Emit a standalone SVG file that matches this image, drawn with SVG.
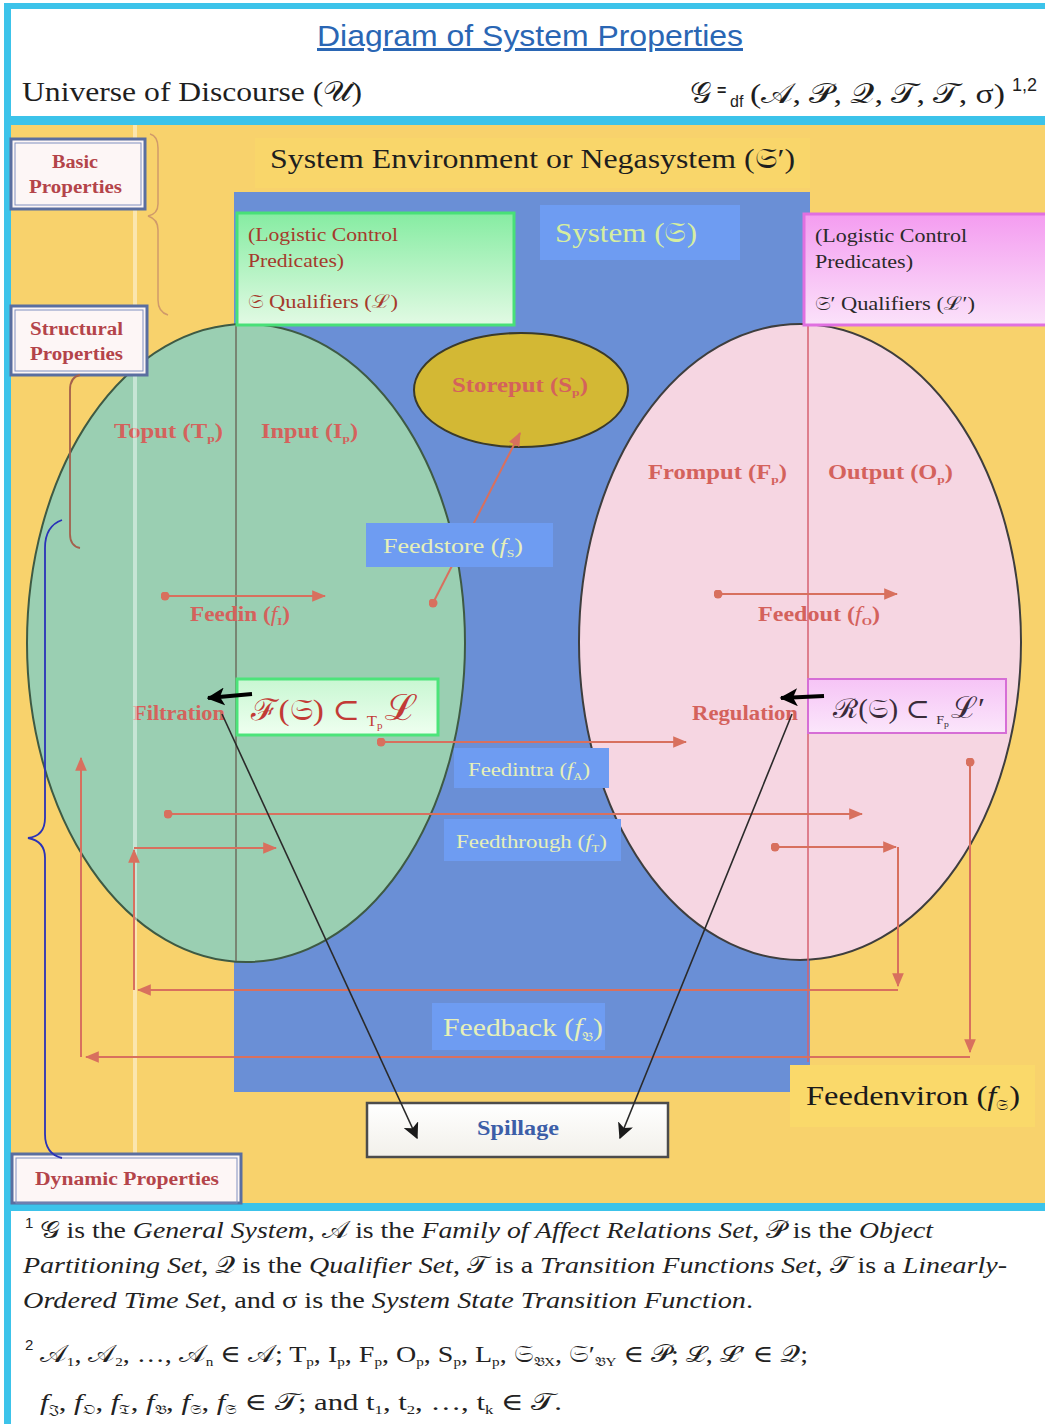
<svg xmlns="http://www.w3.org/2000/svg" width="1045" height="1424" viewBox="0 0 1045 1424">
<style>
.serif{font-family:"Liberation Serif","DejaVu Serif","Noto Sans",serif}
.sans{font-family:"Liberation Sans","DejaVu Sans",sans-serif}
.lbl{font-family:"Liberation Serif","DejaVu Serif",serif;font-weight:bold;font-size:20px;fill:#d4625c}
.prop{font-family:"Liberation Serif","DejaVu Serif",serif;font-weight:bold;font-size:18px;fill:#b4444a}
.blue{font-family:"Liberation Serif","DejaVu Serif",serif;fill:#e6f0b8}
.red{fill:none;stroke:#d8705e;stroke-width:2}
.blk{fill:none;stroke:#2a2a2a;stroke-width:1.6}
.foot{font-family:"Liberation Serif","DejaVu Serif",serif;font-size:24px;fill:#222}
.bbox{fill:#6e9cf2}
</style>
<defs>
<marker id="ar" viewBox="0 0 12 10" refX="11" refY="5" markerWidth="14" markerHeight="12" orient="auto" markerUnits="userSpaceOnUse"><path d="M0,0 L12,5 L0,10 z" fill="#d8705e"/></marker>
<marker id="dt" viewBox="0 0 10 10" refX="5" refY="5" markerWidth="9" markerHeight="9" markerUnits="userSpaceOnUse"><circle cx="5" cy="5" r="5" fill="#d8705e"/></marker>
<marker id="ab" viewBox="0 0 12 12" refX="11" refY="6" markerWidth="16" markerHeight="16" orient="auto" markerUnits="userSpaceOnUse"><path d="M0,0 L12,6 L0,12 L3,6 z" fill="#1a1a1a"/></marker>
<marker id="abk" viewBox="0 0 12 12" refX="11" refY="6" markerWidth="18" markerHeight="18" orient="auto" markerUnits="userSpaceOnUse"><path d="M0,0 L12,6 L0,12 L3,6 z" fill="#000"/></marker>
<linearGradient id="gg" x1="0" y1="0" x2="0" y2="1"><stop offset="0" stop-color="#86eca2"/><stop offset="1" stop-color="#e2fae4"/></linearGradient>
<linearGradient id="pg" x1="0" y1="0" x2="0" y2="1"><stop offset="0" stop-color="#f49cf0"/><stop offset="1" stop-color="#fbe2fa"/></linearGradient>
<linearGradient id="gf" x1="0" y1="0" x2="0" y2="1"><stop offset="0" stop-color="#c8f7d2"/><stop offset="1" stop-color="#effff0"/></linearGradient>
<linearGradient id="pf" x1="0" y1="0" x2="0" y2="1"><stop offset="0" stop-color="#f6c4f6"/><stop offset="1" stop-color="#fbe6fb"/></linearGradient>
<linearGradient id="sg" x1="0" y1="0" x2="0" y2="1"><stop offset="0" stop-color="#ffffff"/><stop offset="1" stop-color="#f2f0ea"/></linearGradient>
</defs>

<g id="frame">
<rect x="0" y="0" width="1045" height="1424" fill="#ffffff"/>
<rect x="8" y="125" width="1037" height="1078" fill="#f8d26c"/>
<rect x="255" y="138" width="555" height="50" fill="#f9d66a"/>
<rect x="4" y="3" width="1041" height="6" fill="#3cc3ea"/>
<rect x="4" y="116" width="1041" height="9" fill="#3cc3ea"/>
<rect x="4" y="1203" width="1041" height="8" fill="#3cc3ea"/>
<rect x="4" y="3" width="7" height="1421" fill="#3cc3ea"/>
</g>

<g id="header">
<text x="317" y="46" class="sans" font-size="30" fill="#2a66b4" textLength="426" lengthAdjust="spacingAndGlyphs" text-decoration="underline">Diagram of System Properties</text>
<text x="22" y="101" class="serif" font-size="28" fill="#1e1e1e" textLength="340" lengthAdjust="spacingAndGlyphs">Universe of Discourse (𝒰)</text>
<text x="690" y="103" class="serif" font-size="30" fill="#1e1e1e">𝒢</text>
<text x="717" y="96" class="sans" font-size="16" font-weight="bold" fill="#1e1e1e">=</text>
<text x="730" y="107" class="sans" font-size="16" fill="#1e1e1e">df</text>
<text x="750" y="103" class="serif" font-size="28" fill="#1e1e1e" textLength="255" lengthAdjust="spacingAndGlyphs">(𝒜, 𝒫, 𝒬, 𝒯, 𝒯, σ)</text>
<text x="1012" y="91" class="sans" font-size="18" fill="#1e1e1e">1,2</text>
</g>

<g id="environment-label">
<text x="270" y="168" class="serif" font-size="28" fill="#1e1e1e" textLength="525" lengthAdjust="spacingAndGlyphs">System Environment or Negasystem (𝔖′)</text>
</g>

<g id="system">
<rect x="234" y="192" width="576" height="900" fill="#6a8fd6"/>
<rect x="540" y="205" width="200" height="55" class="bbox"/>
<text x="555" y="242" class="serif" font-size="28" fill="#d6eea0" textLength="142" lengthAdjust="spacingAndGlyphs">System (𝔖)</text>
</g>

<g id="input-region">
<ellipse cx="246" cy="643" rx="219" ry="319" fill="#9acfb2" stroke="#3e5a44" stroke-width="2"/>
<line x1="236" y1="325" x2="236" y2="961" stroke="#6c6e5e" stroke-width="1.5"/>
<text x="114" y="438" class="lbl" textLength="109" lengthAdjust="spacingAndGlyphs">Toput (T<tspan font-size="11" dy="4">p</tspan><tspan dy="-4">)</tspan></text>
<text x="261" y="438" class="lbl" textLength="97" lengthAdjust="spacingAndGlyphs">Input (I<tspan font-size="11" dy="4">p</tspan><tspan dy="-4">)</tspan></text>
<text x="190" y="621" class="lbl" textLength="100" lengthAdjust="spacingAndGlyphs">Feedin (<tspan font-weight="normal" font-style="italic">f</tspan><tspan font-size="11" dy="4">I</tspan><tspan dy="-4">)</tspan></text>
<text x="133" y="720" class="lbl" fill="#d24e4e" textLength="92" lengthAdjust="spacingAndGlyphs">Filtration</text>
</g>

<g id="output-region">
<ellipse cx="800" cy="642" rx="221" ry="318" fill="#f6d6e2" stroke="#3e3e3e" stroke-width="2"/>
<line x1="808" y1="326" x2="808" y2="1062" stroke="#d66070" stroke-width="1.5"/>
<text x="648" y="479" class="lbl" textLength="139" lengthAdjust="spacingAndGlyphs">Fromput (F<tspan font-size="11" dy="4">p</tspan><tspan dy="-4">)</tspan></text>
<text x="828" y="479" class="lbl" textLength="125" lengthAdjust="spacingAndGlyphs">Output (O<tspan font-size="11" dy="4">p</tspan><tspan dy="-4">)</tspan></text>
<text x="758" y="621" class="lbl" textLength="122" lengthAdjust="spacingAndGlyphs">Feedout (<tspan font-weight="normal" font-style="italic">f</tspan><tspan font-size="11" dy="4">O</tspan><tspan dy="-4">)</tspan></text>
<text x="692" y="720" class="lbl" fill="#d24e4e" textLength="106" lengthAdjust="spacingAndGlyphs">Regulation</text>
</g>

<line x1="135" y1="125" x2="135" y2="1203" stroke="#ffffff" stroke-opacity="0.45" stroke-width="4"/>

<g id="storeput">
<ellipse cx="521" cy="390" rx="107" ry="57" fill="#d3b834" stroke="#3a3a2a" stroke-width="2"/>
<text x="452" y="392" class="lbl" fill="#e08a42" textLength="136" lengthAdjust="spacingAndGlyphs">Storeput (S<tspan font-size="11" dy="4">p</tspan><tspan dy="-4">)</tspan></text>
</g>

<g id="logistic-system">
<rect x="237" y="213" width="277" height="112" fill="url(#gg)" stroke="#48e078" stroke-width="3"/>
<text x="248" y="241" class="serif" font-size="19" fill="#a53a2c" textLength="150" lengthAdjust="spacingAndGlyphs">(Logistic Control</text>
<text x="248" y="267" class="serif" font-size="19" fill="#a53a2c" textLength="96" lengthAdjust="spacingAndGlyphs">Predicates)</text>
<text x="248" y="308" class="serif" font-size="19" fill="#a53a2c" textLength="150" lengthAdjust="spacingAndGlyphs">𝔖 Qualifiers (ℒ)</text>
</g>

<g id="logistic-environment">
<rect x="804" y="214" width="245" height="111" fill="url(#pg)" stroke="#e070e0" stroke-width="3"/>
<text x="815" y="242" class="serif" font-size="19" fill="#2a2a2a" textLength="152" lengthAdjust="spacingAndGlyphs">(Logistic Control</text>
<text x="815" y="268" class="serif" font-size="19" fill="#2a2a2a" textLength="98" lengthAdjust="spacingAndGlyphs">Predicates)</text>
<text x="815" y="310" class="serif" font-size="19" fill="#2a2a2a" textLength="160" lengthAdjust="spacingAndGlyphs">𝔖′ Qualifiers (ℒ′)</text>
</g>

<g id="spillage">
<rect x="367" y="1103" width="301" height="54" fill="url(#sg)" stroke="#4c4c4c" stroke-width="2.5"/>
<text x="477" y="1135" class="serif" font-weight="bold" font-size="20" fill="#3c5ea8" textLength="82" lengthAdjust="spacingAndGlyphs">Spillage</text>
</g>

<g id="connectors">
<path class="red" d="M165,596 H325" marker-start="url(#dt)" marker-end="url(#ar)"/>
<path class="red" d="M433,603 L520,433" marker-start="url(#dt)" marker-end="url(#ar)"/>
<path class="red" d="M718,594 H897" marker-start="url(#dt)" marker-end="url(#ar)"/>
<path class="red" d="M381,742 H686" marker-start="url(#dt)" marker-end="url(#ar)"/>
<path class="red" d="M168,814 H862" marker-start="url(#dt)" marker-end="url(#ar)"/>
<path class="red" d="M775,847 H896" marker-start="url(#dt)" marker-end="url(#ar)"/>
<path class="red" d="M898,847 V986" marker-end="url(#ar)"/>
<path class="red" d="M898,990 H138" marker-end="url(#ar)"/>
<path class="red" d="M134,990 V850" marker-end="url(#ar)"/>
<path class="red" d="M134,848 H276" marker-end="url(#ar)"/>
<path class="red" d="M970,762 V1052" marker-start="url(#dt)" marker-end="url(#ar)"/>
<path class="red" d="M970,1057 H86" marker-end="url(#ar)"/>
<path class="red" d="M81,1057 V758" marker-end="url(#ar)"/>
<path class="blk" d="M222,714 L417,1138" marker-end="url(#ab)"/>
<path class="blk" d="M792,714 L620,1138" marker-end="url(#ab)"/>
</g>

<g id="feedstore">
<rect x="366" y="523" width="187" height="44" class="bbox"/>
<text x="383" y="553" class="blue" font-size="21" textLength="140" lengthAdjust="spacingAndGlyphs">Feedstore (<tspan font-style="italic">f</tspan><tspan font-size="11" dy="4">S</tspan><tspan dy="-4">)</tspan></text>
</g>
<g id="feedintra">
<rect x="454" y="748" width="155" height="40" class="bbox"/>
<text x="468" y="776" class="blue" font-size="18" textLength="122" lengthAdjust="spacingAndGlyphs">Feedintra (<tspan font-style="italic">f</tspan><tspan font-size="10" dy="4">A</tspan><tspan dy="-4">)</tspan></text>
</g>
<g id="feedthrough">
<rect x="444" y="819" width="177" height="42" class="bbox"/>
<text x="456" y="848" class="blue" font-size="18" textLength="151" lengthAdjust="spacingAndGlyphs">Feedthrough (<tspan font-style="italic">f</tspan><tspan font-size="10" dy="4">T</tspan><tspan dy="-4">)</tspan></text>
</g>

<g id="filtration-formula">
<rect x="237" y="679" width="201" height="56" fill="url(#gf)" stroke="#4ce47a" stroke-width="3"/>
<text x="251" y="720" class="serif" font-size="30" fill="#c23a36" textLength="167" lengthAdjust="spacingAndGlyphs">ℱ(𝔖) ⊂<tspan font-size="15" dx="6" dy="6">T</tspan><tspan font-size="10" dy="3">p</tspan><tspan font-size="36" dx="2" dy="-9">ℒ</tspan></text>
</g>
<g id="regulation-formula">
<rect x="808" y="679" width="198" height="54" fill="url(#pf)" stroke="#d66ed6" stroke-width="2"/>
<text x="833" y="718" class="serif" font-size="27" fill="#3a2c3a" textLength="152" lengthAdjust="spacingAndGlyphs">ℛ(𝔖) ⊂<tspan font-size="13" dx="6" dy="6">F</tspan><tspan font-size="9" dy="3">p</tspan><tspan font-size="30" dx="2" dy="-9">ℒ′</tspan></text>
</g>

<g id="control-arrows">
<path d="M252,694 L208,698" fill="none" stroke="#000" stroke-width="4" marker-end="url(#abk)"/>
<path d="M824,696 L781,698" fill="none" stroke="#000" stroke-width="4" marker-end="url(#abk)"/>
</g>

<g id="feedback">
<rect x="432" y="1003" width="173" height="47" class="bbox"/>
<text x="443" y="1036" class="blue" font-size="25" fill="#e0f0a0" textLength="160" lengthAdjust="spacingAndGlyphs">Feedback (<tspan font-style="italic">f</tspan><tspan font-size="13" dy="5">𝔅</tspan><tspan dy="-5">)</tspan></text>
</g>

<g id="feedenviron">
<rect x="790" y="1065" width="245" height="62" fill="#fad96a"/>
<text x="806" y="1105" class="serif" font-size="28" fill="#1a1a1a" textLength="214" lengthAdjust="spacingAndGlyphs">Feedenviron (<tspan font-style="italic">f</tspan><tspan font-size="15" dy="5">𝔖</tspan><tspan dy="-5">)</tspan></text>
</g>

<g id="basic-properties">
<rect x="11" y="139" width="134" height="70" fill="#fdf6f6" stroke="#5a6ea0" stroke-width="3"/>
<rect x="15" y="143" width="126" height="62" fill="none" stroke="#8090c0" stroke-width="1"/>
<text x="52" y="168" class="prop" textLength="46" lengthAdjust="spacingAndGlyphs">Basic</text>
<text x="29" y="193" class="prop" textLength="93" lengthAdjust="spacingAndGlyphs">Properties</text>
</g>
<g id="structural-properties">
<rect x="11" y="306" width="136" height="69" fill="#fdf6f6" stroke="#5a6ea0" stroke-width="3"/>
<rect x="15" y="310" width="128" height="61" fill="none" stroke="#8090c0" stroke-width="1"/>
<text x="30" y="335" class="prop" textLength="93" lengthAdjust="spacingAndGlyphs">Structural</text>
<text x="30" y="360" class="prop" textLength="93" lengthAdjust="spacingAndGlyphs">Properties</text>
</g>
<g id="dynamic-properties">
<rect x="12" y="1154" width="229" height="49" fill="#fdf6f6" stroke="#5a6ea0" stroke-width="3"/>
<rect x="16" y="1158" width="221" height="45" fill="none" stroke="#8090c0" stroke-width="1"/>
<text x="35" y="1185" class="prop" textLength="184" lengthAdjust="spacingAndGlyphs">Dynamic Properties</text>
</g>

<g id="braces">
<path d="M150,134 Q158,136 158,148 V204 Q158,214 148,216 Q158,219 158,230 V300 Q158,312 168,315" fill="none" stroke="#d09a6a" stroke-width="1.5"/>
<path d="M80,375 Q70,377 70,390 V534 Q70,546 80,548" fill="none" stroke="#a4604c" stroke-width="1.8"/>
<path d="M62,520 Q45,526 45,548 V818 Q45,836 28,838 Q45,841 45,858 V1134 Q45,1154 62,1158" fill="none" stroke="#2a32b8" stroke-width="1.8"/>
</g>

<g id="footnotes">
<text x="25" y="1228" class="sans" font-size="15" fill="#222">1</text>
<text x="40" y="1238" class="foot" textLength="893" lengthAdjust="spacingAndGlyphs">𝒢 is the <tspan font-style="italic">General System</tspan>, 𝒜 is the <tspan font-style="italic">Family of Affect Relations Set</tspan>, 𝒫 is the <tspan font-style="italic">Object</tspan></text>
<text x="23" y="1273" class="foot" textLength="984" lengthAdjust="spacingAndGlyphs"><tspan font-style="italic">Partitioning Set</tspan>, 𝒬 is the <tspan font-style="italic">Qualifier Set</tspan>, 𝒯 is a <tspan font-style="italic">Transition Functions Set</tspan>, 𝒯 is a <tspan font-style="italic">Linearly-</tspan></text>
<text x="23" y="1308" class="foot" textLength="730" lengthAdjust="spacingAndGlyphs"><tspan font-style="italic">Ordered Time Set</tspan>, and σ is the <tspan font-style="italic">System State Transition Function</tspan>.</text>
<text x="25" y="1350" class="sans" font-size="15" fill="#222">2</text>
<text x="40" y="1362" class="foot" textLength="768" lengthAdjust="spacingAndGlyphs">𝒜<tspan font-size="13" dy="4">1</tspan><tspan dy="-4">, 𝒜</tspan><tspan font-size="13" dy="4">2</tspan><tspan dy="-4">, …, 𝒜</tspan><tspan font-size="13" dy="4">n</tspan><tspan dy="-4"> ∈ 𝒜; T</tspan><tspan font-size="13" dy="4">p</tspan><tspan dy="-4">, I</tspan><tspan font-size="13" dy="4">p</tspan><tspan dy="-4">, F</tspan><tspan font-size="13" dy="4">p</tspan><tspan dy="-4">, O</tspan><tspan font-size="13" dy="4">p</tspan><tspan dy="-4">, S</tspan><tspan font-size="13" dy="4">p</tspan><tspan dy="-4">, L</tspan><tspan font-size="13" dy="4">p</tspan><tspan dy="-4">, 𝔖</tspan><tspan font-size="13" dy="4">𝔅X</tspan><tspan dy="-4">, 𝔖′</tspan><tspan font-size="13" dy="4">𝔅Y</tspan><tspan dy="-4"> ∈ 𝒫; ℒ, ℒ′ ∈ 𝒬;</tspan></text>
<text x="40" y="1410" class="foot" textLength="522" lengthAdjust="spacingAndGlyphs"><tspan font-style="italic">f</tspan><tspan font-size="13" dy="4">𝔍</tspan><tspan dy="-4">, </tspan><tspan font-style="italic">f</tspan><tspan font-size="13" dy="4">𝔒</tspan><tspan dy="-4">, </tspan><tspan font-style="italic">f</tspan><tspan font-size="13" dy="4">𝔗</tspan><tspan dy="-4">, </tspan><tspan font-style="italic">f</tspan><tspan font-size="13" dy="4">𝔅</tspan><tspan dy="-4">, </tspan><tspan font-style="italic">f</tspan><tspan font-size="13" dy="4">𝔖</tspan><tspan dy="-4">, </tspan><tspan font-style="italic">f</tspan><tspan font-size="13" dy="4">𝔖</tspan><tspan dy="-4"> ∈ 𝒯; and t</tspan><tspan font-size="13" dy="4">1</tspan><tspan dy="-4">, t</tspan><tspan font-size="13" dy="4">2</tspan><tspan dy="-4">, …, t</tspan><tspan font-size="13" dy="4">k</tspan><tspan dy="-4"> ∈ 𝒯.</tspan></text>
</g>
</svg>
